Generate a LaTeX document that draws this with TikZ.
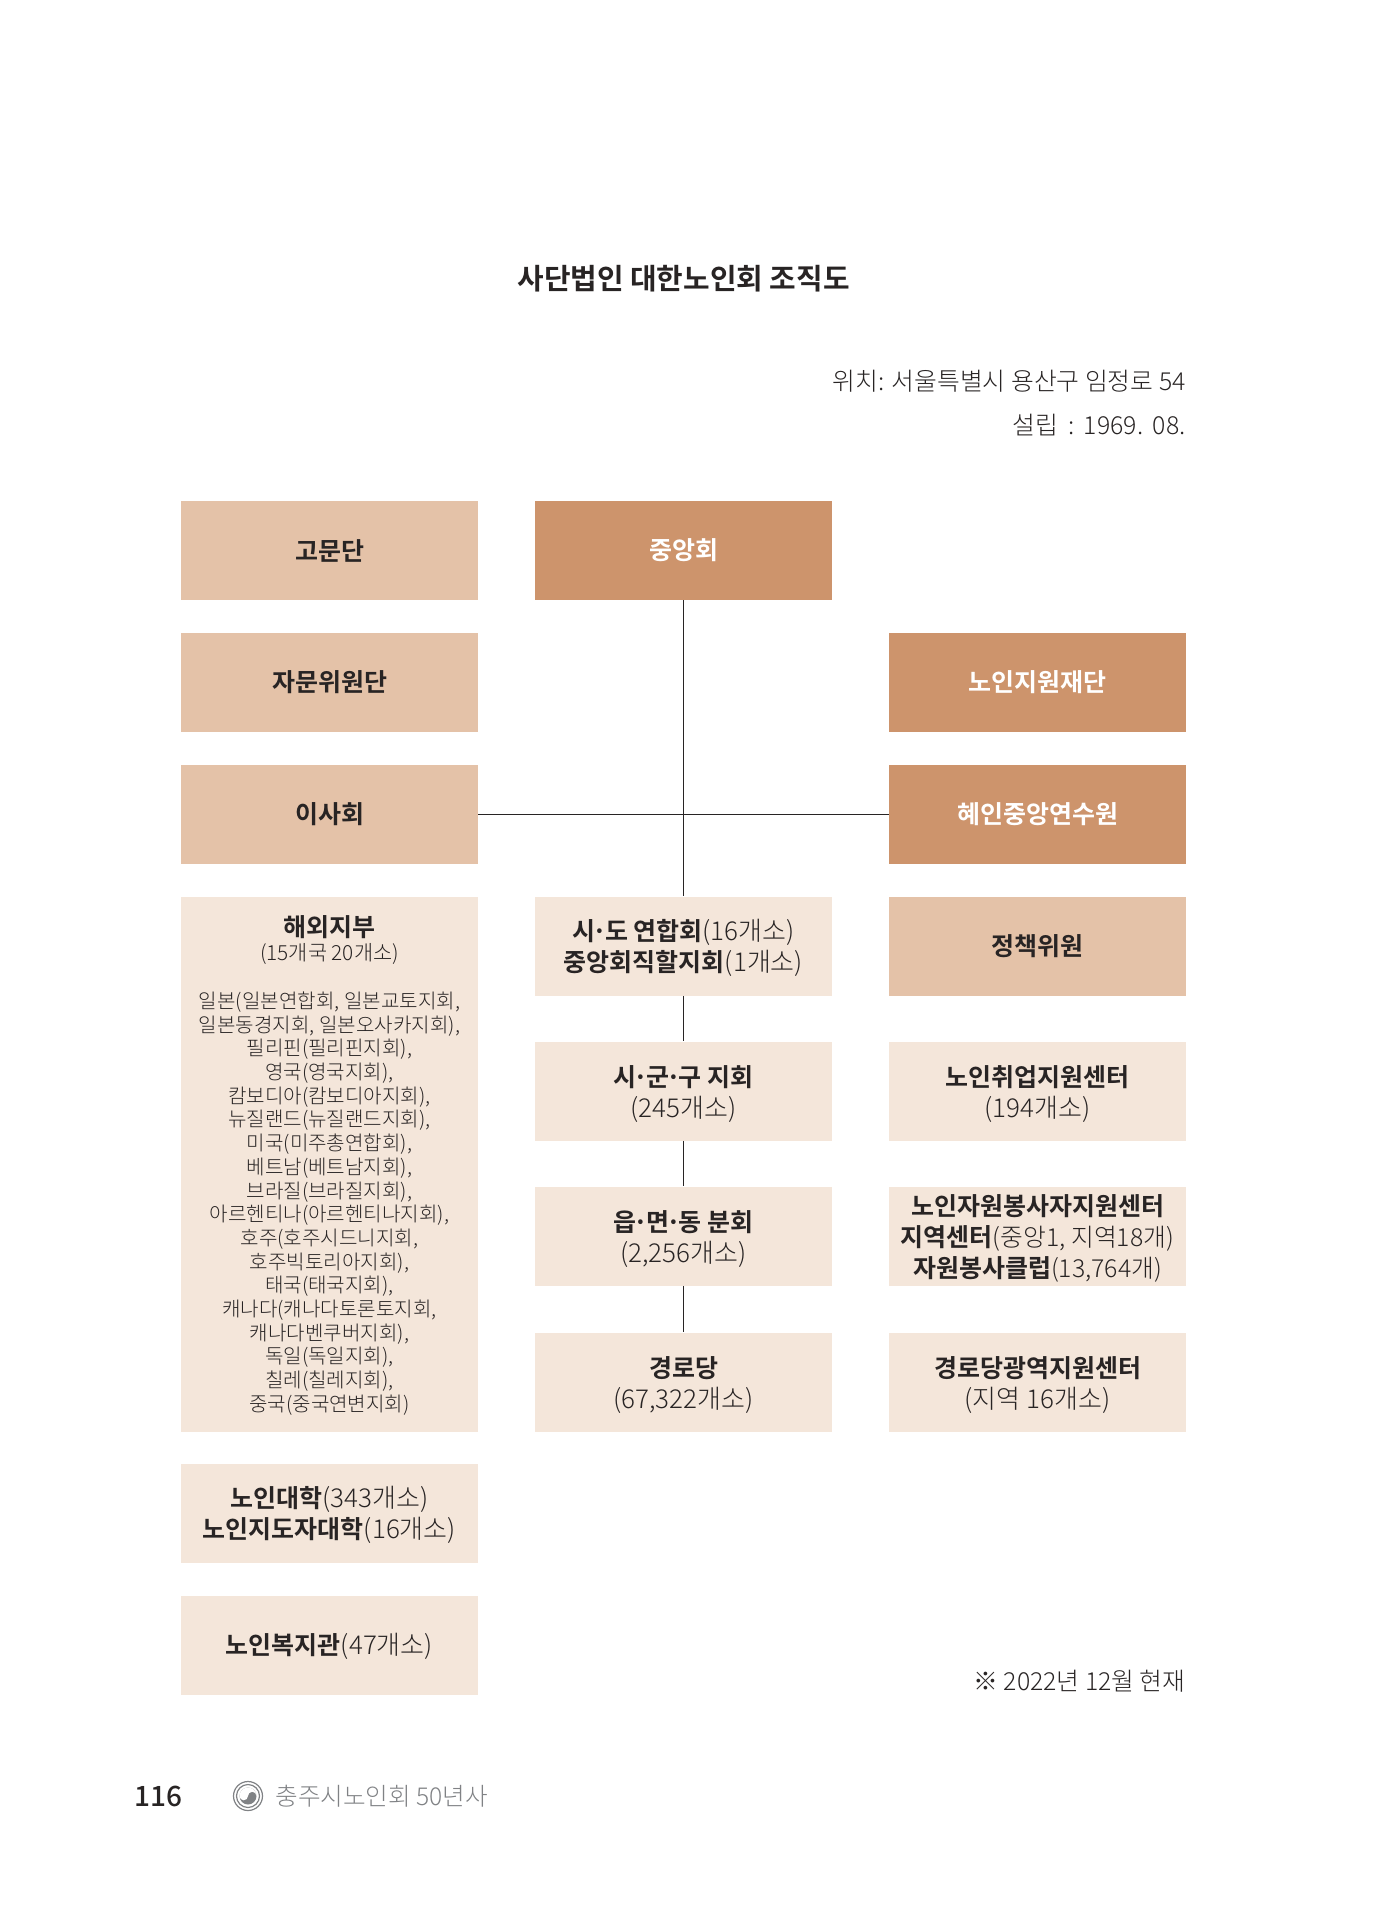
\documentclass[tikz,border=0pt]{standalone}
\usepackage{fontspec}
\setmainfont{Noto Sans CJK KR Light}[BoldFont={Noto Sans CJK KR Bold}]
\newfontfamily\mediumface{Noto Sans CJK KR Medium}
\setlength{\lineskiplimit}{-20pt}
\definecolor{boxdark}{RGB}{205,148,108}
\definecolor{boxmid}{RGB}{228,194,168}
\definecolor{boxlight}{RGB}{244,230,218}
\definecolor{inkdark}{RGB}{40,36,36}
\definecolor{footgray}{RGB}{128,130,133}
\newcommand{\fs}[2]{\fontsize{#1}{#2}\selectfont}
\newcommand{\mdot}{\kern-.1em·\kern-.1em}
\newcommand{\hd}[1]{\textbf{\fontsize{12.5}{15.5}\selectfont #1}}
\newcommand{\tl}[1]{\rule{0pt}{#1pt}}
\tikzset{
  x=0.5pt,y=-0.5pt,
  orgbox/.style={rectangle,inner sep=0pt,minimum width=148.5pt,minimum height=49.5pt,align=center,text=inkdark,font=\fs{13}{15.5}},
  darkbox/.style={orgbox,fill=boxdark,text=white,font=\fs{12.5}{15.5}\bfseries},
  midbox/.style={orgbox,fill=boxmid,font=\fs{12.5}{15.5}\bfseries},
  lightbox/.style={orgbox,fill=boxlight},
  link/.style={draw=inkdark,line width=0.5pt},
  plain/.style={inner sep=0pt,text=inkdark,align=center}
}
\begin{document}
\begin{tikzpicture}
\useasboundingbox (0,0) rectangle (1397,1920);
% left column
\node[midbox] (gomun) at (329.5,550.5) {고문단};
\node[midbox] (jamun) at (329.5,682) {자문위원단};
\node[midbox] (isa) at (329.5,814) {이사회};
\node[lightbox,minimum height=267.5pt] (haeoe) at (329.5,1164.5) {};
\node[lightbox] (daehak) at (329.5,1513.5) {\tl{12.2}\hd{노인대학}(343개소)\\\hd{노인지도자대학}(16개소)};
\node[lightbox] (bokji) at (329.5,1645.5) {\tl{11.6}\hd{노인복지관}(47개소)};
\node[plain,font=\fs{12.5}{15.5}\bfseries] (haeoeT) at (329.5,927) {해외지부};
\node[plain,font=\fs{10.4}{12}] (haeoeS) at (329.5,954) {(15개국 20개소)};
\node[plain,font=\fs{10.05}{11.85}] (haeoeL) at (329.5,1203.5) {일본(일본연합회, 일본교토지회,\\일본동경지회, 일본오사카지회),\\필리핀(필리핀지회),\\영국(영국지회),\\캄보디아(캄보디아지회),\\뉴질랜드(뉴질랜드지회),\\미국(미주총연합회),\\베트남(베트남지회),\\브라질(브라질지회),\\아르헨티나(아르헨티나지회),\\호주(호주시드니지회,\\호주빅토리아지회),\\태국(태국지회),\\캐나다(캐나다토론토지회,\\캐나다벤쿠버지회),\\독일(독일지회),\\칠레(칠레지회),\\중국(중국연변지회)};
% centre column
\node[darkbox] (jungang) at (683.5,550.5) {중앙회};
\node[lightbox] (sido) at (683.5,946) {\tl{12.6}\hd{시\mdot 도 연합회}(16개소)\\\hd{중앙회직할지회}(1개소)};
\node[lightbox] (sigungu) at (683.5,1091) {\tl{13.2}\hd{시\mdot 군\mdot 구 지회}\\(245개소)};
\node[lightbox] (eup) at (683.5,1236) {\tl{13.2}\hd{읍\mdot 면\mdot 동 분회}\\(2,256개소)};
\node[lightbox] (gyeongro) at (683.5,1382) {\tl{13.2}\hd{경로당}\\(67,322개소)};
% right column
\node[darkbox] (jaedan) at (1037.5,682) {노인지원재단};
\node[darkbox] (yeonsu) at (1037.5,814) {혜인중앙연수원};
\node[midbox] (jeongchaek) at (1037.5,946) {정책위원};
\node[lightbox] (chwieop) at (1037.5,1091) {\tl{13.2}\hd{노인취업지원센터}\\(194개소)};
\node[lightbox,font=\fs{12.4}{15.5}] (jawon) at (1037.5,1236) {\tl{12.4}\hd{노인자원봉사자지원센터}\\\hd{지역센터}(중앙1, 지역18개)\\\hd{자원봉사클럽}(13,764개)};
\node[lightbox] (gwangyeok) at (1037.5,1382) {\tl{13.2}\hd{경로당광역지원센터}\\(지역 16개소)};
% connectors
\draw[link] (jungang.south) -- (sido.north);
\draw[link] (sido.south) -- (sigungu.north);
\draw[link] (sigungu.south) -- (eup.north);
\draw[link] (eup.south) -- (gyeongro.north);
\draw[link] (isa.east) -- (yeonsu.west);
% headings
\node[plain,font=\fs{14.45}{17}\bfseries] (title) at (683.5,279) {사단법인 대한노인회 조직도};
\node[plain,anchor=east,font=\fs{12.4}{15}] (wichi) at (1186,381) {위치: 서울특별시 용산구 임정로 54};
\node[plain,anchor=east,font=\fs{12.4}{15}] (seollip) at (1186,425.5) {설립\ \,:\ \,1969.\ \,08.};
\node[plain,anchor=east,font=\fs{12.4}{15}] (hyeonjae) at (1186,1681) {※ 2022년 12월 현재};
% footer
\node[plain,anchor=west,font=\fs{14}{17}\mediumface] (page) at (134,1796) {116};
\node[plain,anchor=west,text=footgray,font=\fs{12.3}{15}] (book) at (275,1796) {충주시노인회 50년사};
% emblem
\coordinate (logo) at (248,1796);
\draw[footgray,line width=0.6pt] (logo) circle[radius=14.5];
\draw[footgray,line width=0.6pt] (logo) circle[radius=11.5];
\fill[footgray] (logo) circle[radius=8.5];
\fill[white] (239.5,1796) arc[start angle=180,end angle=360,radius=8.5] arc[start angle=0,end angle=-180,radius=4.25] arc[start angle=0,end angle=180,radius=4.25] -- cycle;
\end{tikzpicture}
\end{document}
